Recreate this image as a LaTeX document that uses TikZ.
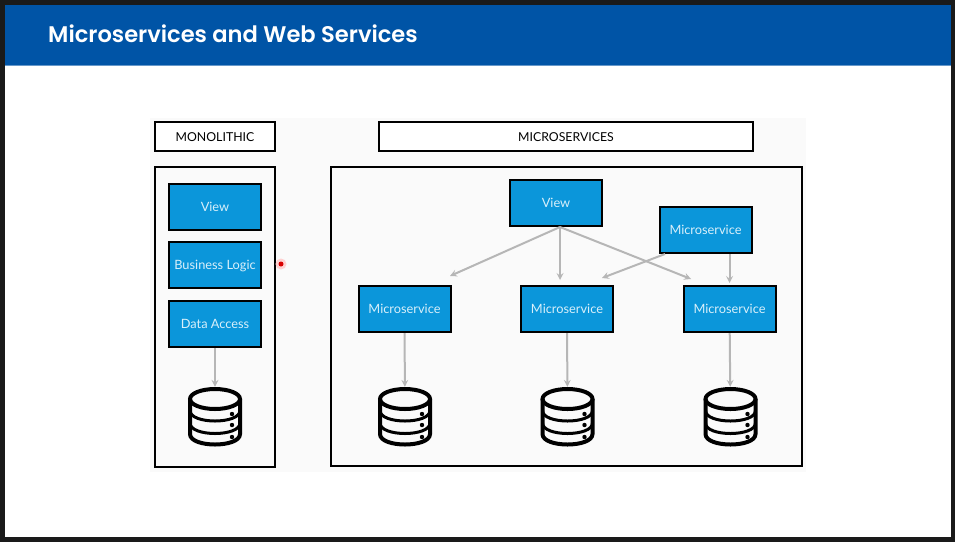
\documentclass[tikz,border=0pt]{standalone}
\usepackage{fontspec}
\setmainfont{Lato}
\newfontfamily\titlefont{Poppins SemiBold}
\definecolor{slideblue}{HTML}{0054A6}
\definecolor{boxblue}{HTML}{0B96DA}
\definecolor{boxtext}{HTML}{D8EFFA}
\definecolor{panelgray}{HTML}{FAFAFA}
\definecolor{arrowgray}{HTML}{B6B6B6}
\definecolor{framedark}{HTML}{1A1A1A}
\tikzset{
  headbox/.style={draw,line width=2pt,fill=white,inner sep=0pt,text height=11.5pt,text depth=1pt,font=\fontsize{12.3}{15}\selectfont},
  groupbox/.style={draw,line width=2pt,inner sep=0pt},
  svcbox/.style={draw,line width=2pt,fill=boxblue,text=boxtext,inner sep=0pt,minimum width=92pt,minimum height=46pt,text height=11pt,text depth=2pt,font=\fontsize{12.8}{15}\selectfont},
  dbbox/.style={inner sep=0pt,minimum width=52pt,minimum height=58pt},
  flow/.style={->,>=stealth,arrowgray,line width=2pt},
}
\newcommand{\dbicon}[2]{
\node[dbbox] (#1) at #2 {};
\begin{scope}[shift={(#1)},line width=4pt]
\draw (0,-19) ellipse [x radius=25pt,y radius=10pt];
\draw (-25,-19) -- (-25,16) .. controls (-25,30) and (25,30) .. (25,16) -- (25,-19);
\draw[line width=3pt] (-25,-7.5) .. controls (-25,6.5) and (25,6.5) .. (25,-7.5);
\draw[line width=3pt] (-25,5) .. controls (-25,19) and (25,19) .. (25,5);
\foreach \doty in {-4,7,19}
  \fill (17,\doty) circle (2.2pt);
\end{scope}
}
\begin{document}
\begin{tikzpicture}[x=1pt,y=-1pt]
\useasboundingbox (0,0) rectangle (955,542);
\fill[framedark] (0,0) rectangle (955,542);
\fill[white] (4.5,4.5) rectangle (950.5,537);
\fill[slideblue] (4.5,4.5) rectangle (950.5,65);
\fill[slideblue!60] (4.5,65) rectangle (950.5,66);
\fill[panelgray] (150,118) rectangle (806,472);
\node[anchor=west,text=white,inner sep=0pt,font=\titlefont\fontsize{22.6}{28}\selectfont] (title) at (48,34) {Microservices and Web Services};

\node[headbox,minimum width=120pt,minimum height=29pt] (monohead) at (215,136.5) {MONOLITHIC};
\node[headbox,minimum width=374pt,minimum height=29pt] (microhead) at (566,136.5) {MICROSERVICES};
\node[groupbox,minimum width=120pt,minimum height=300pt] (monogroup) at (215,317) {};
\node[groupbox,minimum width=471pt,minimum height=299pt] (microgroup) at (566.5,316.5) {};

\node[svcbox] (monoview) at (215,206.5) {View};
\node[svcbox] (monologic) at (215,265) {Business Logic};
\node[svcbox] (monodata) at (215,324) {Data Access};
\dbicon{monodb}{(215,418)}

\node[svcbox] (view) at (556,203) {View};
\node[svcbox] (mstop) at (705.5,230) {Microservice};
\node[svcbox] (msa) at (404.5,309) {Microservice};
\node[svcbox] (msb) at (567,309) {Microservice};
\node[svcbox] (msc) at (729.5,309) {Microservice};
\dbicon{dba}{(405,418)}
\dbicon{dbb}{(567.5,418)}
\dbicon{dbc}{(730.5,418)}

\coordinate (viewout) at (560,227);
\coordinate (msaend) at (450,276);
\coordinate (msbend) at (560,280);
\coordinate (mscend) at (691,279);
\coordinate (mstopout) at (665,254);
\coordinate (msbend2) at (602,278);
\draw[flow] (viewout) -- (msaend);
\draw[flow] (viewout) -- (msbend);
\draw[flow] (viewout) -- (mscend);
\draw[flow] (mstopout) -- (msbend2);
\draw[flow,shorten >=2pt] (mstop.south -| msc.north) -- (msc.north);

\draw[flow,shorten >=2pt] (monodata) -- (monodb);
\draw[flow,shorten >=2pt] (msa) -- (dba);
\draw[flow,shorten >=2pt] (msb) -- (dbb);
\draw[flow,shorten >=2pt] (msc) -- (dbc);

\node[circle,fill=red!18,inner sep=0pt,minimum size=11pt] (pointer) at (281,264) {};
\fill[red!85!black] (pointer) circle (2.5pt);
\end{tikzpicture}
\end{document}
